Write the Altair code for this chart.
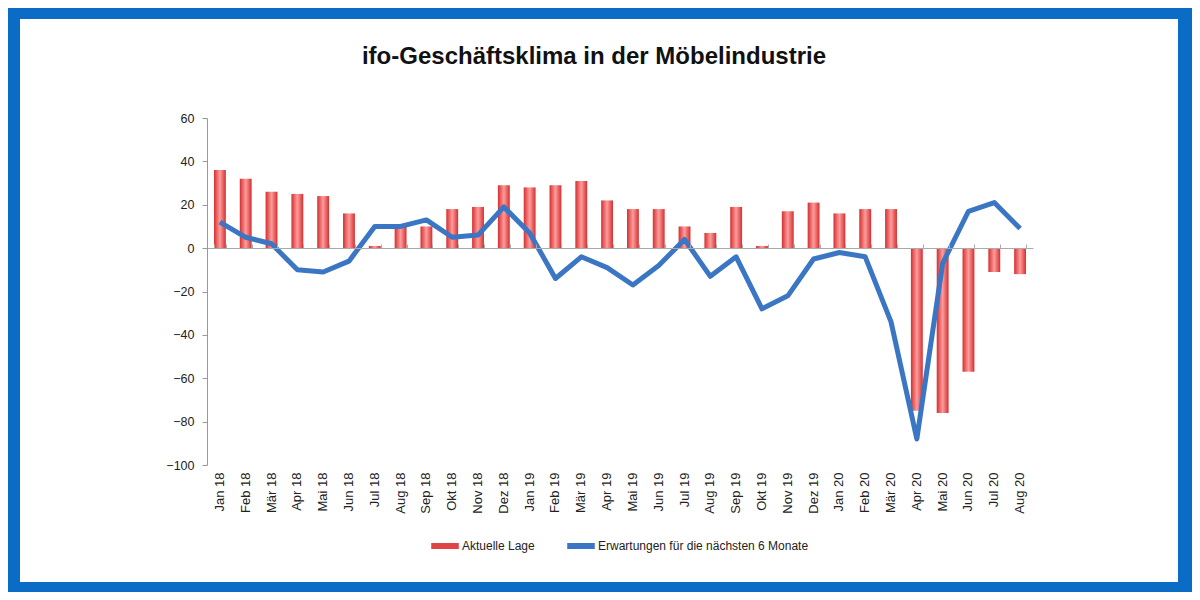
import altair as alt
import pandas as pd

months = ["Jan 18", "Feb 18", "Mär 18", "Apr 18", "Mai 18", "Jun 18", "Jul 18", "Aug 18",
          "Sep 18", "Okt 18", "Nov 18", "Dez 18", "Jan 19", "Feb 19", "Mär 19", "Apr 19",
          "Mai 19", "Jun 19", "Jul 19", "Aug 19", "Sep 19", "Okt 19", "Nov 19", "Dez 19",
          "Jan 20", "Feb 20", "Mär 20", "Apr 20", "Mai 20", "Jun 20", "Jul 20", "Aug 20"]
lage = [36, 32, 26, 25, 24, 16, 1, 10, 10, 18, 19, 29, 28, 29, 31, 22,
        18, 18, 10, 7, 19, 1, 17, 21, 16, 18, 18, -75, -76, -57, -11, -12]
erwartungen = [12, 5, 2, -10, -11, -6, 10, 10, 13, 5, 6, 19, 7, -14, -4, -9,
               -17, -8, 4, -13, -4, -28, -22, -5, -2, -4, -34, -88, -7, 17, 21, 9]
series_names = ["Aktuelle Lage", "Erwartungen für die nächsten 6 Monate"]
title_text = "ifo-Geschäftsklima in der Möbelindustrie"

df = pd.DataFrame({"Monat": months, "Lage": lage, "Erw": erwartungen,
                   "Serie": series_names[1]})

FONT = "Liberation Sans"
W, H = 826, 347

xscale = alt.Scale(domain=months, paddingInner=0.54, paddingOuter=0.27)
yscale = alt.Scale(domain=[-100, 60], nice=False, zero=False)

panel = alt.Chart(pd.DataFrame({"a": [0]})).mark_rect(color="white").encode(
    x=alt.value(-187), x2=alt.value(971), y=alt.value(-99), y2=alt.value(464)
)

gradient = alt.Gradient(
    gradient="linear", x1=0, x2=1, y1=0, y2=0,
    stops=[alt.GradientStop(color="#d42f2f", offset=0),
           alt.GradientStop(color="#ff9c9c", offset=0.5),
           alt.GradientStop(color="#d42f2f", offset=1)],
)

bars = alt.Chart(df).mark_bar(color=gradient).encode(
    x=alt.X("Monat:N", sort=months, scale=xscale, title=None,
            axis=alt.Axis(orient="bottom", labelAngle=-90, labelFontSize=13,
                          labelFont=FONT, labelColor="#222", labelPadding=7,
                          domain=False, ticks=False, zindex=1)),
    y=alt.Y("Lage:Q", scale=yscale, title=None,
            axis=alt.Axis(values=[-100, -80, -60, -40, -20, 0, 20, 40, 60],
                          labelFontSize=12.5, labelFont=FONT, labelColor="#222",
                          domainColor="#999", tickColor="#999", tickSize=5,
                          labelPadding=8, grid=False, zindex=1)),
)

line = alt.Chart(df).mark_line(strokeWidth=5, strokeJoin="round").encode(
    x=alt.X("Monat:N", sort=months, scale=xscale, title=None,
            axis=alt.Axis(orient="top", offset=-130, labels=False, domain=True,
                          domainColor="#aaa", ticks=True, tickBand="extent",
                          tickColor="#aaa", tickSize=4, zindex=1)),
    y=alt.Y("Erw:Q", scale=yscale),
    color=alt.Color("Serie:N",
                    scale=alt.Scale(domain=series_names, range=["#e04545", "#3b76c4"]),
                    legend=alt.Legend(orient="none", legendX=221, legendY=411,
                                      direction="horizontal", title=None,
                                      symbolType="stroke", symbolStrokeWidth=6,
                                      symbolSize=760, labelFontSize=12,
                                      labelFont=FONT, labelColor="#222",
                                      labelOffset=0, labelLimit=0,
                                      columnPadding=20, zindex=1)),
)

chart = alt.layer(panel, bars, line).resolve_axis(x="independent").properties(
    width=W, height=H,
    background="#0a6cc4",
    padding={"left": 199, "top": 110, "right": 159, "bottom": 127},
    autosize=alt.AutoSizeParams(type="none"),
    title=alt.TitleParams(title_text, font=FONT, fontSize=24, fontWeight="bold",
                          color="#111", offset=0, dy=50, dx=-26, frame="group",
                          zindex=1),
).configure_view(stroke=None)

chart.save("out.html", embed_options={"renderer": "svg", "actions": False})
